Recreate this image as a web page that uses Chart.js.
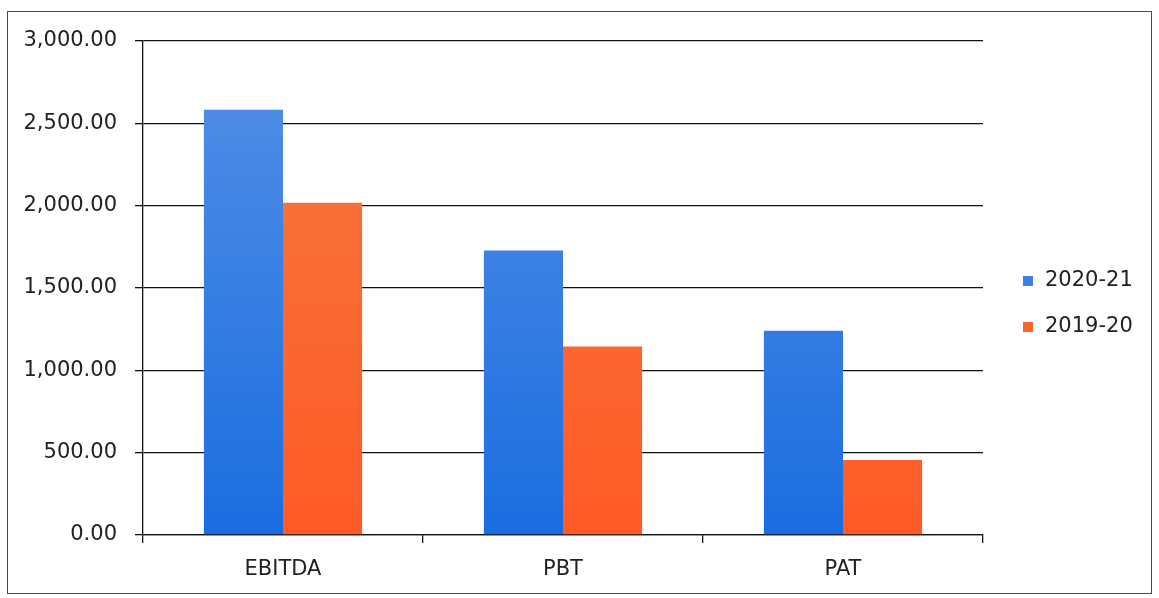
<!DOCTYPE html>
<html>
<head>
<meta charset="utf-8">
<script src="https://cdn.jsdelivr.net/npm/chart.js@4.4.0/dist/chart.umd.min.js"></script>
<style>
html, body { margin: 0; padding: 0; background: #fff; }
#wrap { position: relative; width: 1159px; height: 598px; }
#frame { position: absolute; left: 7px; top: 11px; width: 1143px; height: 581px; border: 1.5px solid #4a4a4a; pointer-events: none; }
canvas { position: absolute; left: 0; top: 0; }
</style>
</head>
<body>
<div id="wrap">
  <canvas id="grafico" width="1159" height="598"></canvas>
  <div id="frame"></div>
</div>
<script>
// dados
const categorias = ['EBITDA', 'PBT', 'PAT'];
const rotulosSeries = ['2020-21', '2019-20'];
const valores2021 = [2582, 1727, 1241];
const valores1920 = [2017, 1144, 456];
const eixoY = { min: 0, max: 3000, passo: 500 };

const coresLegenda = ['#3b7fe2', '#f8642c'];

function gradiente(topo, base) {
    return (context) => {
        const area = context.chart.chartArea;
        if (!area) return base;
        const g = context.chart.ctx.createLinearGradient(0, area.top, 0, area.bottom);
        g.addColorStop(0, topo);
        g.addColorStop(1, base);
        return g;
    };
}

// legenda desenhada à direita
const legendaLateral = {
    id: 'legendaLateral',
    afterDraw(chart) {
        const ctx = chart.ctx;
        ctx.save();
        ctx.font = '21px "DejaVu Sans"';
        ctx.textBaseline = 'middle';
        chart.data.datasets.forEach((ds, i) => {
            const y = 281 + i * 46;
            ctx.fillStyle = coresLegenda[i];
            ctx.fillRect(1023, y - 5, 10, 10);
            ctx.fillStyle = '#222';
            ctx.fillText(ds.label, 1045, y);
        });
        ctx.restore();
    }
};

const ctx = document.getElementById('grafico').getContext('2d');

const config = {
    type: 'bar',
    data: {
        labels: categorias,
        datasets: [{
            label: rotulosSeries[0],
            data: valores2021,
            backgroundColor: gradiente('#5590e6', '#1a6de0'),
            categoryPercentage: 0.565,
            barPercentage: 1
        }, {
            label: rotulosSeries[1],
            data: valores1920,
            backgroundColor: gradiente('#f47a40', '#ff5a26'),
            categoryPercentage: 0.565,
            barPercentage: 1
        }]
    },
    options: {
        responsive: false,
        animation: false,
        layout: { padding: { top: 41, right: 176, bottom: 0, left: 0 } },
        plugins: {
            legend: { display: false },
            tooltip: { enabled: false }
        },
        scales: {
            x: {
                grid: { drawOnChartArea: false, drawTicks: true, tickLength: 8, color: '#111', lineWidth: 1.3 },
                border: { color: '#111', width: 1.3 },
                ticks: { color: '#222', padding: 14, font: { family: 'DejaVu Sans', size: 21 } },
                afterFit(scale) { scale.height = 63; }
            },
            y: {
                min: eixoY.min,
                max: eixoY.max,
                grid: { color: '#111', lineWidth: 1.3, tickLength: 8 },
                border: { color: '#111', width: 1.3 },
                ticks: {
                    stepSize: eixoY.passo,
                    color: '#222',
                    padding: 18,
                    font: { family: 'DejaVu Sans', size: 21 },
                    callback: (v) => v.toLocaleString('en-US', { minimumFractionDigits: 2, maximumFractionDigits: 2 })
                },
                afterFit(scale) { scale.width = 143; }
            }
        }
    },
    plugins: [legendaLateral]
};

const meuGrafico = new Chart(ctx, config);
</script>
</body>
</html>
